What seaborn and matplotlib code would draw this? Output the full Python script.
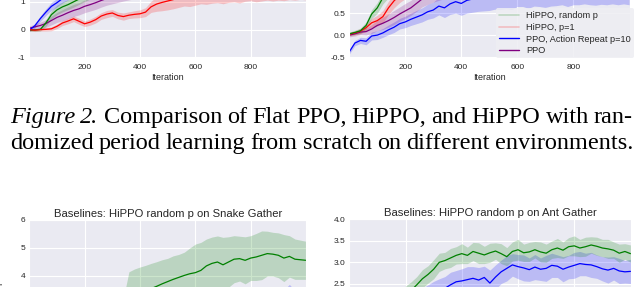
import numpy as np
import matplotlib
matplotlib.use('Agg')
import matplotlib.pyplot as plt
from matplotlib.lines import Line2D
import seaborn as sns

# iteration grid shared by all runs
iters = np.arange(0, 1001, 20)

# top-left panel
a_red = [0.00, -0.02, 0.00, 0.01, 0.03, 0.12, 0.24, 0.31, 0.39, 0.30, 0.21, 0.27, 0.36, 0.49, 0.56, 0.60, 0.51,
         0.47, 0.52, 0.55, 0.57, 0.63, 0.82, 0.92, 0.98, 1.03, 1.08, 1.15, 1.21, 1.18, 1.25, 1.31, 1.27, 1.33,
         1.36, 1.30, 1.38, 1.41, 1.35, 1.42, 1.46, 1.40, 1.44, 1.49, 1.45, 1.50, 1.47, 1.53, 1.50, 1.55, 1.52]
a_red_sd = [0.04, 0.05, 0.05, 0.06, 0.07, 0.08, 0.09, 0.10, 0.10, 0.11, 0.10, 0.11, 0.12, 0.12, 0.13, 0.12, 0.12,
            0.13, 0.12, 0.13, 0.14, 0.16, 0.20, 0.26, 0.30, 0.32, 0.33, 0.35, 0.36, 0.35, 0.37, 0.38, 0.36, 0.38,
            0.39, 0.37, 0.40, 0.41, 0.39, 0.40, 0.42, 0.40, 0.41, 0.43, 0.42, 0.44, 0.43, 0.45, 0.44, 0.46, 0.45]
a_blue = [-0.02, 0.14, 0.40, 0.63, 0.84, 0.97, 1.12, 1.24, 1.38, 1.47, 1.58, 1.66, 1.72, 1.79, 1.84, 1.88, 1.93,
          1.96, 2.00, 2.03, 2.05, 2.08, 2.10, 2.12, 2.13, 2.15, 2.14, 2.17, 2.16, 2.18, 2.19, 2.17, 2.20, 2.21,
          2.19, 2.22, 2.21, 2.23, 2.22, 2.24, 2.23, 2.25, 2.24, 2.26, 2.25, 2.24, 2.26, 2.27, 2.25, 2.26, 2.27]
a_blue_sd = [0.05, 0.08, 0.10, 0.12, 0.14, 0.15, 0.16, 0.17, 0.18, 0.18, 0.19, 0.19, 0.20, 0.20, 0.20, 0.20, 0.20,
             0.20, 0.20, 0.20, 0.20, 0.20, 0.20, 0.20, 0.20, 0.20, 0.20, 0.20, 0.20, 0.20, 0.20, 0.20, 0.20, 0.20,
             0.20, 0.20, 0.20, 0.20, 0.20, 0.20, 0.20, 0.20, 0.20, 0.20, 0.20, 0.20, 0.20, 0.20, 0.20, 0.20, 0.20]
a_green = [-0.02, -0.01, 0.01, 0.24, 0.54, 0.71, 0.82, 0.90, 1.00, 1.10, 1.21, 1.30, 1.38, 1.45, 1.52, 1.58, 1.63,
           1.68, 1.72, 1.76, 1.80, 1.83, 1.86, 1.88, 1.90, 1.92, 1.93, 1.95, 1.96, 1.97, 1.98, 1.99, 2.00, 2.01,
           2.01, 2.02, 2.03, 2.03, 2.04, 2.05, 2.05, 2.06, 2.06, 2.07, 2.07, 2.08, 2.08, 2.09, 2.09, 2.10, 2.10]
a_green_sd = [0.04, 0.05, 0.06, 0.12, 0.15, 0.17, 0.18, 0.18, 0.19, 0.19, 0.20, 0.20, 0.20, 0.20, 0.20, 0.20, 0.20,
              0.20, 0.20, 0.20, 0.20, 0.20, 0.20, 0.20, 0.20, 0.20, 0.20, 0.20, 0.20, 0.20, 0.20, 0.20, 0.20, 0.20,
              0.20, 0.20, 0.20, 0.20, 0.20, 0.20, 0.20, 0.20, 0.20, 0.20, 0.20, 0.20, 0.20, 0.20, 0.20, 0.20, 0.20]
a_purple = [0.05, 0.10, 0.15, 0.22, 0.33, 0.44, 0.52, 0.61, 0.69, 0.75, 0.84, 0.90, 0.97, 1.05, 1.12, 1.18, 1.23,
            1.28, 1.32, 1.36, 1.40, 1.43, 1.46, 1.49, 1.52, 1.54, 1.56, 1.58, 1.60, 1.62, 1.63, 1.65, 1.66, 1.68,
            1.69, 1.70, 1.71, 1.72, 1.73, 1.74, 1.75, 1.76, 1.77, 1.77, 1.78, 1.79, 1.79, 1.80, 1.80, 1.81, 1.81]
a_purple_sd = [0.08, 0.10, 0.12, 0.14, 0.16, 0.18, 0.20, 0.21, 0.22, 0.22, 0.23, 0.23, 0.24, 0.24, 0.24, 0.25,
               0.25, 0.25, 0.25, 0.25, 0.25, 0.25, 0.25, 0.25, 0.25, 0.25, 0.25, 0.25, 0.25, 0.25, 0.25, 0.25,
               0.25, 0.25, 0.25, 0.25, 0.25, 0.25, 0.25, 0.25, 0.25, 0.25, 0.25, 0.25, 0.25, 0.25, 0.25, 0.25,
               0.25, 0.25, 0.25]

# top-right panel
b_blue = [-0.38, -0.18, -0.12, -0.14, -0.02, 0.00, 0.05, 0.12, 0.18, 0.26, 0.30, 0.36, 0.41, 0.46, 0.53, 0.57,
          0.66, 0.62, 0.71, 0.76, 0.72, 0.79, 0.82, 0.86, 0.88, 0.91, 0.93, 0.96, 0.93, 0.98, 1.01, 0.97, 1.02,
          1.04, 0.99, 1.05, 1.02, 1.07, 1.04, 1.08, 1.06, 1.10, 1.05, 1.09, 1.12, 1.08, 1.11, 1.07, 1.12, 1.10, 1.13]
b_blue_sd = [0.05, 0.06, 0.07, 0.08, 0.09, 0.10, 0.10, 0.11, 0.12, 0.12, 0.13, 0.14, 0.15, 0.16, 0.17, 0.18,
             0.20, 0.22, 0.24, 0.26, 0.27, 0.29, 0.30, 0.32, 0.33, 0.35, 0.34, 0.38, 0.33, 0.40, 0.36, 0.32, 0.41,
             0.38, 0.34, 0.42, 0.36, 0.40, 0.35, 0.43, 0.37, 0.41, 0.34, 0.40, 0.44, 0.38, 0.42, 0.36, 0.43, 0.39, 0.44]
b_purple = [0.00, 0.03, 0.07, 0.08, 0.14, 0.22, 0.27, 0.33, 0.40, 0.48, 0.55, 0.62, 0.72, 0.82, 0.88, 0.93, 0.97,
            1.01, 1.04, 1.07, 1.10, 1.12, 1.15, 1.17, 1.19, 1.21, 1.23, 1.24, 1.26, 1.27, 1.28, 1.30, 1.31, 1.32,
            1.33, 1.34, 1.35, 1.36, 1.36, 1.37, 1.38, 1.38, 1.39, 1.39, 1.40, 1.40, 1.41, 1.41, 1.42, 1.42, 1.42]
b_red = [0.02, 0.05, 0.09, 0.17, 0.28, 0.33, 0.42, 0.62, 0.78, 0.90, 1.00, 1.07, 1.13, 1.18, 1.22, 1.26, 1.29,
         1.32, 1.35, 1.37, 1.39, 1.41, 1.43, 1.45, 1.46, 1.48, 1.49, 1.50, 1.51, 1.52, 1.53, 1.54, 1.55, 1.55,
         1.56, 1.57, 1.57, 1.58, 1.58, 1.59, 1.59, 1.60, 1.60, 1.60, 1.61, 1.61, 1.61, 1.62, 1.62, 1.62, 1.62]
b_green = [0.03, 0.06, 0.10, 0.22, 0.48, 0.62, 0.85, 1.00, 1.10, 1.18, 1.24, 1.29, 1.33, 1.37, 1.40, 1.43, 1.45,
           1.47, 1.49, 1.51, 1.52, 1.54, 1.55, 1.56, 1.57, 1.58, 1.59, 1.60, 1.61, 1.61, 1.62, 1.63, 1.63, 1.64,
           1.64, 1.65, 1.65, 1.66, 1.66, 1.67, 1.67, 1.67, 1.68, 1.68, 1.68, 1.69, 1.69, 1.69, 1.70, 1.70, 1.70]
b_band_sd = [0.04, 0.05, 0.06, 0.08, 0.10, 0.12, 0.14, 0.15, 0.16, 0.16, 0.17, 0.17, 0.18, 0.18, 0.18, 0.18, 0.18,
             0.18, 0.18, 0.18, 0.18, 0.18, 0.18, 0.18, 0.18, 0.18, 0.18, 0.18, 0.18, 0.18, 0.18, 0.18, 0.18, 0.18,
             0.18, 0.18, 0.18, 0.18, 0.18, 0.18, 0.18, 0.18, 0.18, 0.18, 0.18, 0.18, 0.18, 0.18, 0.18, 0.18, 0.18]

# bottom-left panel (Snake Gather)
c_green = [0.80, 1.00, 1.20, 1.40, 1.50, 1.70, 1.80, 1.90, 2.00, 2.10, 2.20, 2.30, 2.40, 2.50, 2.60, 2.70, 2.80,
           2.90, 3.35, 3.40, 3.46, 3.50, 3.55, 3.63, 3.72, 3.80, 3.88, 3.95, 4.02, 4.08, 4.12, 4.20, 4.36, 4.45,
           4.50, 4.40, 4.50, 4.60, 4.62, 4.56, 4.64, 4.68, 4.74, 4.80, 4.78, 4.74, 4.64, 4.70, 4.60, 4.58, 4.56]
c_green_sd = [0.30, 0.30, 0.30, 0.30, 0.30, 0.30, 0.30, 0.30, 0.30, 0.30, 0.30, 0.30, 0.30, 0.30, 0.30, 0.30,
              0.30, 0.30, 0.80, 0.85, 0.86, 0.88, 0.90, 0.88, 0.86, 0.83, 0.84, 0.82, 0.83, 0.92, 1.02, 1.00,
              0.96, 0.94, 0.93, 0.98, 0.90, 0.84, 0.80, 0.84, 0.80, 0.84, 0.87, 0.80, 0.78, 0.80, 0.84, 0.74,
              0.72, 0.70, 0.68]
c_blue = [0.50, 0.60, 0.70, 0.80, 0.90, 1.00, 1.10, 1.20, 1.30, 1.40, 1.50, 1.60, 1.70, 1.80, 1.90, 2.00, 2.05,
          2.10, 2.15, 2.20, 2.25, 2.30, 2.35, 2.40, 2.45, 2.50, 2.55, 2.60, 2.62, 2.66, 2.70, 2.72, 2.75, 2.78,
          2.80, 2.82, 2.85, 2.86, 2.88, 2.90, 2.92, 2.94, 2.96, 2.98, 3.00, 3.02, 3.10, 3.25, 3.08, 3.05, 3.04]
c_blue_sd = [0.40] * 47 + [0.45, 0.40, 0.40, 0.40]

# bottom-right panel (Ant Gather)
d_green = [1.20, 1.30, 1.42, 1.55, 1.66, 1.78, 1.88, 1.98, 2.08, 2.18, 2.26, 2.35, 2.48, 2.62, 2.72, 2.84, 3.00,
           3.04, 3.10, 3.16, 3.20, 3.16, 3.25, 3.21, 3.17, 3.22, 3.26, 3.20, 3.13, 3.25, 3.29, 3.22, 3.24, 3.29,
           3.24, 3.21, 3.29, 3.33, 3.28, 3.36, 3.38, 3.33, 3.36, 3.40, 3.37, 3.33, 3.31, 3.28, 3.21, 3.25, 3.20]
d_green_sd = [0.15, 0.15, 0.16, 0.16, 0.17, 0.17, 0.18, 0.18, 0.18, 0.19, 0.19, 0.20, 0.19, 0.21, 0.20, 0.22,
              0.21, 0.19, 0.22, 0.20, 0.23, 0.19, 0.21, 0.24, 0.20, 0.22, 0.19, 0.23, 0.21, 0.22, 0.24, 0.20,
              0.22, 0.19, 0.23, 0.21, 0.20, 0.22, 0.19, 0.21, 0.23, 0.20, 0.22, 0.19, 0.21, 0.20, 0.22, 0.19,
              0.21, 0.18, 0.20]
d_blue = [0.90, 1.00, 1.10, 1.20, 1.30, 1.40, 1.50, 1.60, 1.70, 1.80, 1.88, 1.96, 2.04, 2.12, 2.20, 2.28, 2.34,
          2.40, 2.48, 2.55, 2.57, 2.60, 2.63, 2.59, 2.65, 2.52, 2.66, 2.78, 2.86, 2.94, 2.90, 2.87, 2.83, 2.89,
          2.84, 2.86, 2.93, 2.91, 2.84, 2.89, 2.93, 2.97, 2.95, 2.94, 2.90, 2.85, 2.82, 2.86, 2.80, 2.78, 2.79]
d_blue_sd = [0.25, 0.25, 0.26, 0.26, 0.27, 0.27, 0.28, 0.28, 0.28, 0.28, 0.28, 0.28, 0.28, 0.28, 0.28, 0.28,
             0.28, 0.27, 0.29, 0.26, 0.28, 0.30, 0.27, 0.29, 0.26, 0.30, 0.28, 0.27, 0.29, 0.26, 0.28, 0.30,
             0.27, 0.29, 0.26, 0.30, 0.28, 0.26, 0.29, 0.27, 0.30, 0.28, 0.26, 0.29, 0.27, 0.28, 0.30, 0.27,
             0.29, 0.26, 0.28]

legend_labels = ['HiPPO, random p', 'HiPPO, p=1', 'PPO, Action Repeat p=10', 'PPO']
title_snake = 'Baselines: HiPPO random p on Snake Gather'
title_ant = 'Baselines: HiPPO random p on Ant Gather'
caption_1 = [('Figure', 'italic'), ('2.', 'italic'), ('Comparison', 'normal'), ('of', 'normal'),
             ('Flat', 'normal'), ('PPO,', 'normal'), ('HiPPO,', 'normal'), ('and', 'normal'),
             ('HiPPO', 'normal'), ('with', 'normal'), ('ran-', 'normal')]
caption_2 = [(w, 'normal') for w in 'domized period learning from scratch on different environments.'.split()]

GREEN, RED, BLUE, PURPLE = '#008000', '#ff0000', '#0000ff', '#800080'

sns.set_style('darkgrid')
plt.rcParams['font.family'] = ['Liberation Sans', 'DejaVu Sans']
plt.rcParams['text.color'] = '.15'

W, H = 640, 287
fig = plt.figure(figsize=(W / 100, H / 100), dpi=100)


def px_axes(left, right, top, ylim, unit_px):
    # place an axes from pixel edges; it may run off the picture
    height = (ylim[1] - ylim[0]) * unit_px
    bottom = top + height
    return fig.add_axes([left / W, (H - bottom) / H, (right - left) / W, height / H])


def draw(ax, mean, sd, color, lw=0.9):
    mean = np.array(mean)
    sd = np.array(sd)
    ax.fill_between(iters, mean - sd, mean + sd, color=color, alpha=0.2, lw=0)
    sns.lineplot(x=iters, y=mean, color=color, lw=lw, ax=ax)


def style(ax, xlim, ylim, yticks, fmt):
    ax.set_xlim(*xlim)
    ax.set_ylim(*ylim)
    ax.set_xticks([200, 400, 600, 800])
    ax.set_yticks(yticks)
    ax.set_yticklabels([fmt.format(v) for v in yticks])
    ax.tick_params(axis='both', labelsize=6, colors='.15', length=0)
    ax.tick_params(axis='y', pad=3)
    ax.tick_params(axis='x', pad=4)


# top-left
ax1 = px_axes(29.3, 306, 58 - 4.02 * 27.8, (-1.02, 3.0), 27.8)
draw(ax1, a_purple, a_purple_sd, PURPLE)
draw(ax1, a_green, a_green_sd, GREEN)
draw(ax1, a_blue, a_blue_sd, BLUE)
draw(ax1, a_red, a_red_sd, RED)
style(ax1, (0, 1000), (-1.02, 3.0), [-1, 0, 1, 2, 3], '{:d}')
ax1.set_xlabel('Iteration', fontsize=6.5, labelpad=2)
ax1.set_ylabel('')

# top-right
ax2 = px_axes(349.3, 630, 58 - 2.52 * 44, (-0.52, 2.0), 44)
draw(ax2, b_blue, b_blue_sd, BLUE)
draw(ax2, b_purple, b_band_sd, PURPLE)
draw(ax2, b_red, b_band_sd, RED)
draw(ax2, b_green, b_band_sd, GREEN)
style(ax2, (0, 1003), (-0.52, 2.0), [-0.5, 0.0, 0.5, 1.0, 1.5, 2.0], '{:.1f}')
ax2.set_xlabel('Iteration', fontsize=6.5, labelpad=2)
ax2.set_ylabel('')
handles = [Line2D([], [], color=GREEN, alpha=0.2, lw=1.2), Line2D([], [], color=RED, alpha=0.2, lw=1.2),
           Line2D([], [], color=BLUE, lw=1.0), Line2D([], [], color=PURPLE, lw=1.0)]
leg = ax2.legend(handles, legend_labels, loc='lower right', fontsize=6.6, frameon=True, framealpha=0.85,
                 facecolor='#eeeef3', edgecolor='none', handlelength=2.2, handletextpad=0.8,
                 labelspacing=0.3, borderpad=0.3, borderaxespad=0)
leg.set_bbox_to_anchor((634 / W, (H - 58) / H), transform=fig.transFigure)

# bottom-left
ax3 = px_axes(29.3, 306, 220, (0, 6), 28)
draw(ax3, c_blue, c_blue_sd, BLUE)
draw(ax3, c_green, c_green_sd, GREEN)
style(ax3, (0, 1000), (0, 6), [0, 1, 2, 3, 4, 5, 6], '{:d}')
ax3.set_title(title_snake, fontsize=8.1, pad=2.5)
ax3.set_ylabel('Average Return', fontsize=6.5)
ax3.yaxis.set_label_coords(-0.088, 0.44)

# bottom-right
ax4 = px_axes(349.3, 630.5, 219, (1.0, 4.0), 43.3)
draw(ax4, d_blue, d_blue_sd, BLUE)
draw(ax4, d_green, d_green_sd, GREEN)
style(ax4, (0, 1000), (1.0, 4.0), [1.0, 1.5, 2.0, 2.5, 3.0, 3.5, 4.0], '{:.1f}')
ax4.set_title(title_ant, fontsize=8.1, pad=2.5)
ax4.set_ylabel('')


def justify(words, base_px, x0, x1, size):
    texts = [fig.text(0, 1 - base_px / H, w, fontsize=size, family='Liberation Serif', style=s,
                      color='black', va='baseline') for w, s in words]
    fig.canvas.draw()
    r = fig.canvas.get_renderer()
    widths = [t.get_window_extent(r).width for t in texts]
    gap = (x1 - x0 - sum(widths)) / (len(texts) - 1)
    x = x0
    for t, w in zip(texts, widths):
        t.set_x(x / W)
        x += w + gap


justify(caption_1, 123, 10, 633, 17.5)
justify(caption_2, 149, 10, 633, 17.5)

fig.savefig('out.png', dpi=100)
